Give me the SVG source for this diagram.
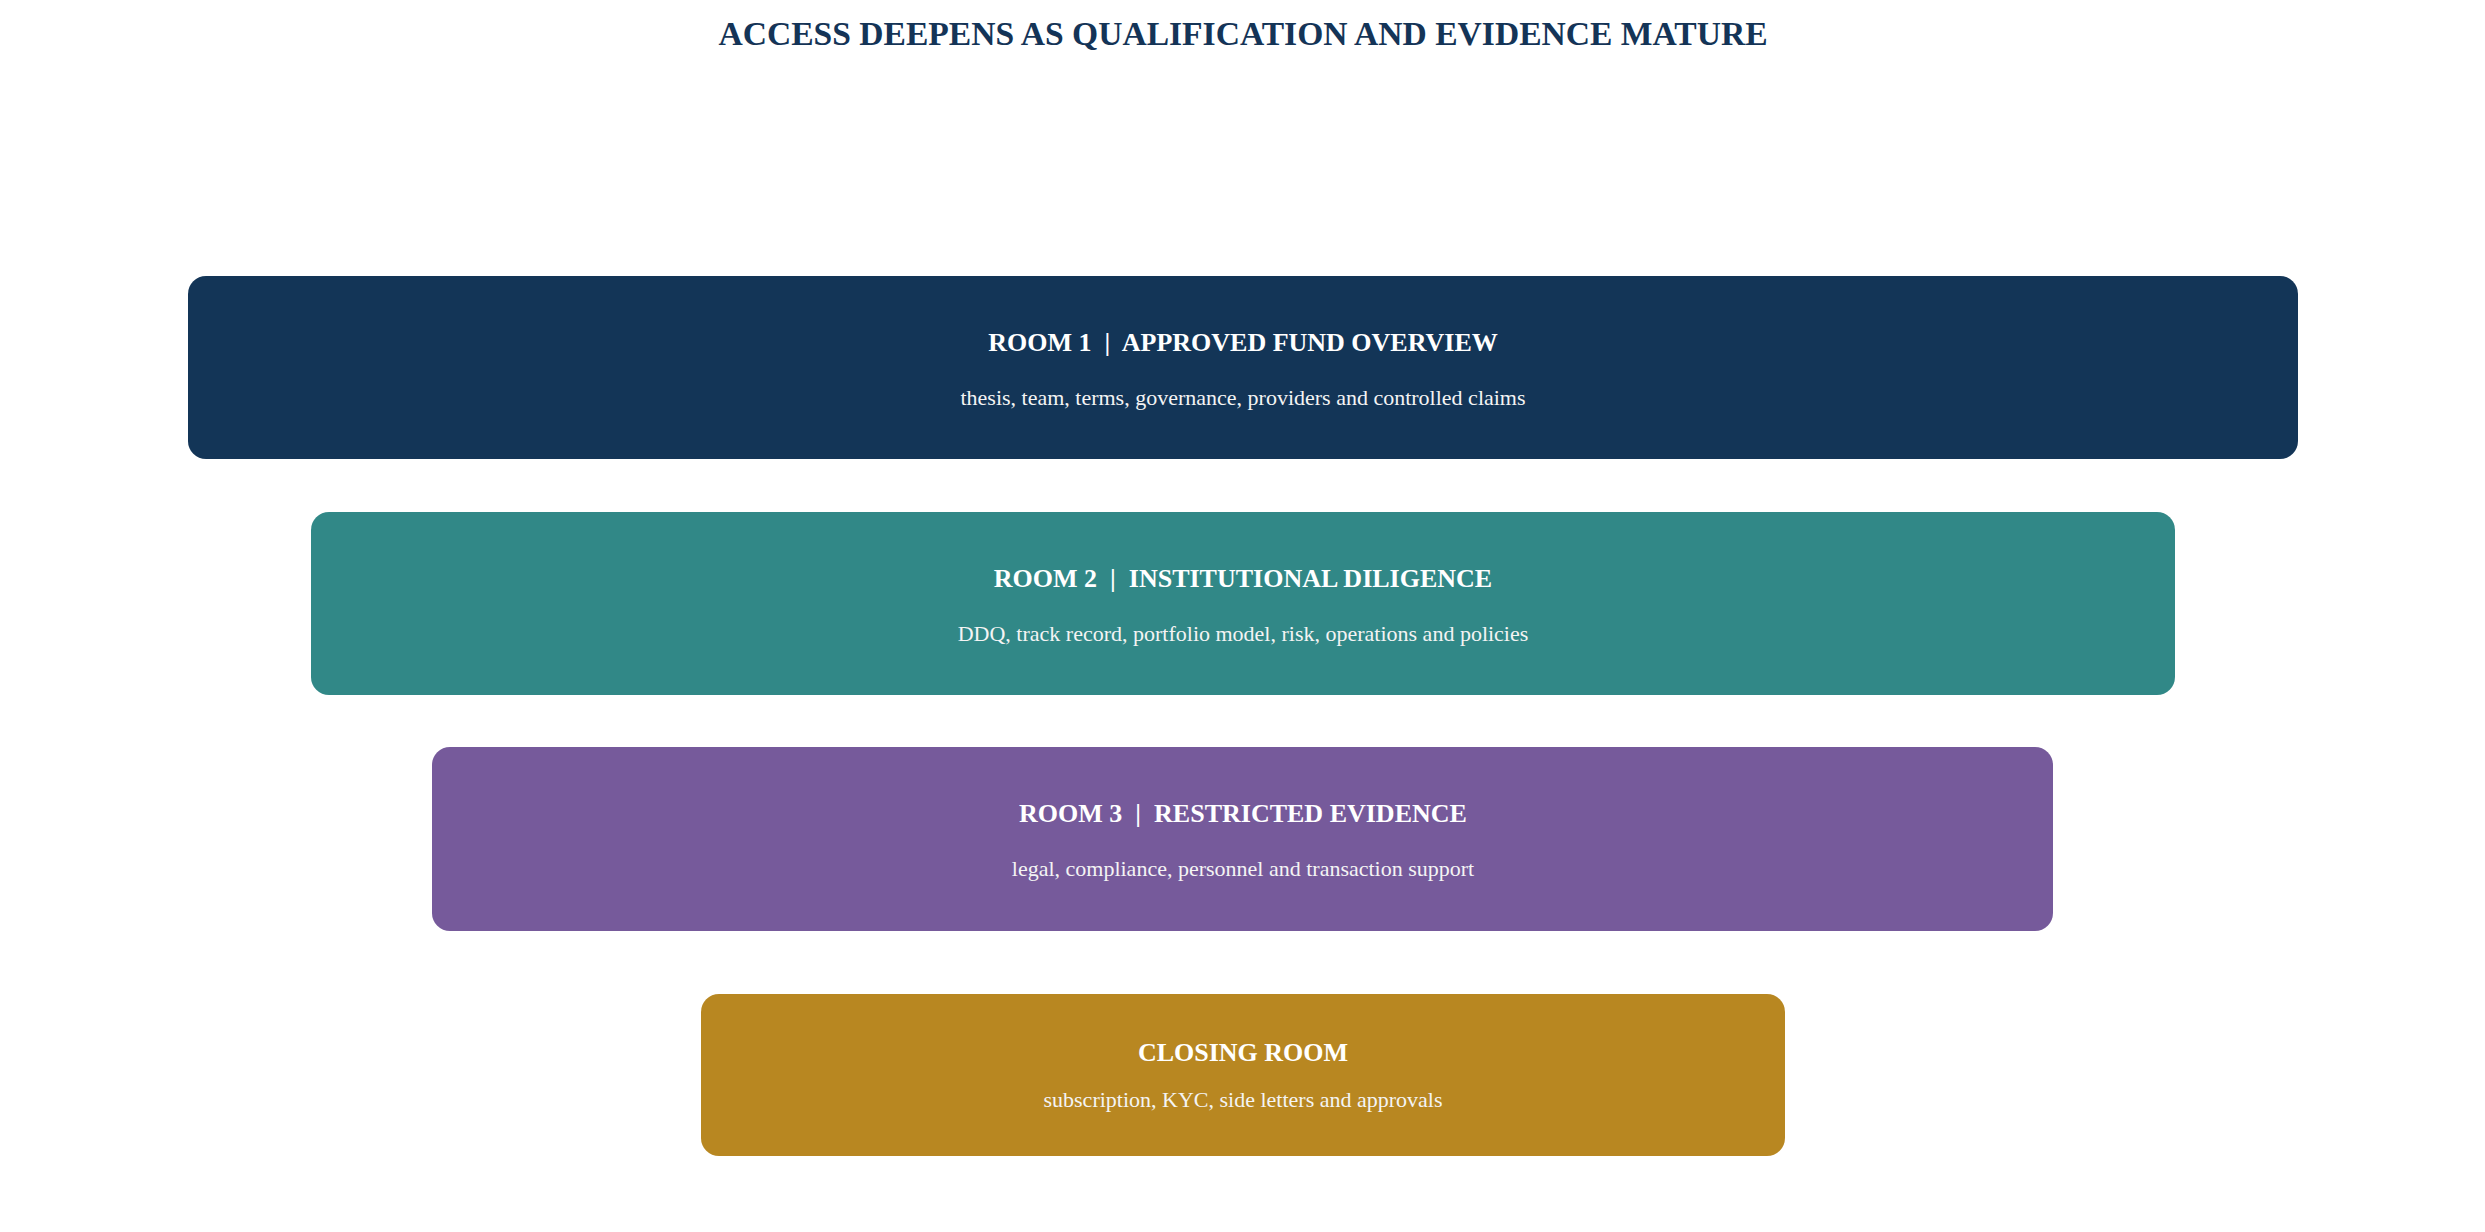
<svg xmlns="http://www.w3.org/2000/svg" width="2485" height="1232" viewBox="0 0 2485 1232">
  <style>
    .page { fill: #ffffff; }
    .heading { font-family: "Liberation Serif", "Times New Roman", serif; font-size: 33.6px; font-weight: bold; fill: #143457; text-anchor: middle; }
    .room-title { font-family: "Liberation Serif", "Times New Roman", serif; font-size: 26px; font-weight: bold; fill: #ffffff; text-anchor: middle; white-space: pre; }
    .room-sub { font-family: "Liberation Serif", "Times New Roman", serif; font-size: 22px; fill: #f4f4f4; text-anchor: middle; }
    .r1 { fill: #133557; }
    .r2 { fill: #318887; }
    .r3 { fill: #765A9B; }
    .r4 { fill: #B88721; }
  </style>
  <rect class="page" x="0" y="0" width="2485" height="1232"/>
  <text class="heading" x="1243" y="45">ACCESS DEEPENS AS QUALIFICATION AND EVIDENCE MATURE</text>

  <g id="connectors"></g>

  <g id="room1">
    <rect class="r1" x="188" y="276" width="2110" height="183" rx="18" ry="18"/>
    <text class="room-title" x="1243" y="351" xml:space="preserve">ROOM 1  |  APPROVED FUND OVERVIEW</text>
    <text class="room-sub" x="1243" y="405">thesis, team, terms, governance, providers and controlled claims</text>
  </g>

  <g id="room2">
    <rect class="r2" x="311" y="512" width="1864" height="183" rx="18" ry="18"/>
    <text class="room-title" x="1243" y="587" xml:space="preserve">ROOM 2  |  INSTITUTIONAL DILIGENCE</text>
    <text class="room-sub" x="1243" y="641">DDQ, track record, portfolio model, risk, operations and policies</text>
  </g>

  <g id="room3">
    <rect class="r3" x="432" y="747" width="1621" height="184" rx="18" ry="18"/>
    <text class="room-title" x="1243" y="822" xml:space="preserve">ROOM 3  |  RESTRICTED EVIDENCE</text>
    <text class="room-sub" x="1243" y="876">legal, compliance, personnel and transaction support</text>
  </g>

  <g id="closing-room">
    <rect class="r4" x="701" y="994" width="1084" height="162" rx="18" ry="18"/>
    <text class="room-title" x="1243" y="1061">CLOSING ROOM</text>
    <text class="room-sub" x="1243" y="1107">subscription, KYC, side letters and approvals</text>
  </g>
</svg>
